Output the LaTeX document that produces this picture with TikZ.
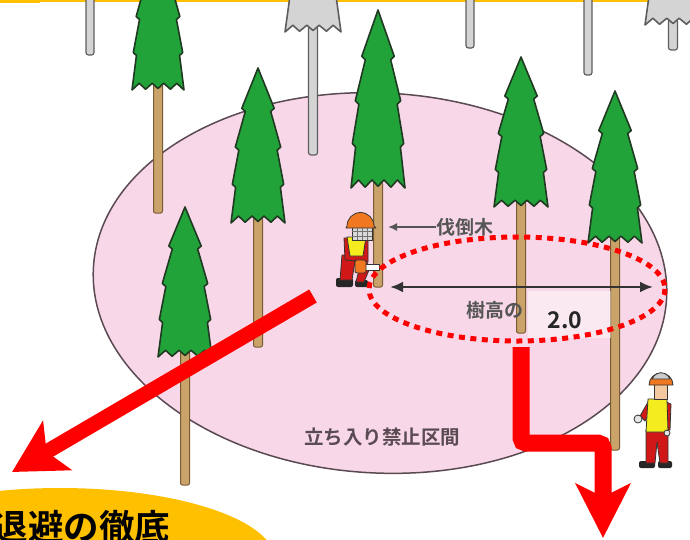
\documentclass[tikz,border=0pt]{standalone}
\usepackage{fontspec}
\newfontfamily\jp{Noto Sans CJK JP}[BoldFont={Noto Sans CJK JP Bold}]
\usetikzlibrary{arrows.meta}

\definecolor{zonepink}{HTML}{F8D8E8}
\definecolor{zoneline}{HTML}{5A4A52}
\definecolor{leaf}{HTML}{22A33A}
\definecolor{leafline}{HTML}{203A22}
\definecolor{bark}{HTML}{C9A36A}
\definecolor{barkline}{HTML}{7A5A30}
\definecolor{deadfill}{HTML}{D4D4D4}
\definecolor{deadline}{HTML}{5E5E5E}
\definecolor{banner}{HTML}{FFC000}
\definecolor{labelgray}{HTML}{555555}
\definecolor{helmet}{HTML}{F07820}
\definecolor{vest}{HTML}{F4EC1E}
\definecolor{suit}{HTML}{D01818}
\definecolor{skin}{HTML}{F5C9A0}

\tikzset{
  greencrown/.style={fill=leaf,draw=leafline,line width=1.6pt,line join=round},
  greentrunk/.style={fill=bark,draw=barkline,line width=1pt,rounded corners=2pt},
  graycrown/.style={fill=deadfill,draw=deadline,line width=1.6pt,line join=round},
  graytrunk/.style={fill=deadfill,draw=deadline,line width=1.2pt,rounded corners=2.5pt},
  pole/.style={fill=deadfill,draw=deadline,line width=1.2pt,rounded corners=2.5pt},
  fig/.style={draw=black!80,line width=0.8pt,line join=round},
  redarrow/.style={draw=red,line width=#1},
  lbl/.style={inner sep=0pt,text=labelgray,font=\jp\bfseries\fontsize{19}{19}\selectfont},
}

% fir tree: #1 x, #2 tip y, #3 half width, #4 crown height, #5 trunk bottom, #6 colour set
\newcommand\firtree[6]{%
  \draw[#6trunk] ({#1-4.5},{#2+#4-6}) rectangle ({#1+4.5},#5);
  \draw[#6crown] (#1,#2)
    -- ({#1-0.60*#3},{#2+0.26*#4}) -- ({#1-0.47*#3},{#2+0.28*#4})
    -- ({#1-0.84*#3},{#2+0.51*#4}) -- ({#1-0.71*#3},{#2+0.53*#4})
    -- ({#1-0.95*#3},{#2+0.75*#4}) -- ({#1-0.83*#3},{#2+0.77*#4})
    -- ({#1-1.00*#3},{#2+#4})
    -- ({#1-0.72*#3},{#2+0.955*#4}) -- ({#1-0.48*#3},{#2+0.995*#4})
    -- ({#1-0.22*#3},{#2+0.955*#4}) -- ({#1},{#2+0.99*#4})
    -- ({#1+0.22*#3},{#2+0.955*#4}) -- ({#1+0.48*#3},{#2+0.995*#4})
    -- ({#1+0.72*#3},{#2+0.955*#4})
    -- ({#1+1.00*#3},{#2+#4})
    -- ({#1+0.83*#3},{#2+0.77*#4}) -- ({#1+0.95*#3},{#2+0.75*#4})
    -- ({#1+0.71*#3},{#2+0.53*#4}) -- ({#1+0.84*#3},{#2+0.51*#4})
    -- ({#1+0.47*#3},{#2+0.28*#4}) -- ({#1+0.60*#3},{#2+0.26*#4})
    -- cycle;
}

\begin{document}
\begin{tikzpicture}[x=1pt,y=-1pt]
\useasboundingbox (0,0) rectangle (690,539);
\clip (0,0) rectangle (690,539);
\fill[white] (0,0) rectangle (690,539);

% rule along the top edge
\fill[banner] (0,0) rectangle (40,3);
\fill[banner] (40,0) rectangle (690,1.5);

% no-entry zone
\draw[fill=zonepink,draw=zoneline,line width=1.5pt]
  [shift={(380,283)},rotate=-3] (0,0) ellipse [x radius=287, y radius=190];

% bare poles and dead trees behind
\draw[pole] (86,-5) rectangle (94,55);
\draw[pole] (466,-5) rectangle (474,48);
\draw[pole] (584,-5) rectangle (592,75);
\firtree{313}{-118}{28}{150}{155}{gray}
\firtree{673}{-125}{28}{150}{50}{gray}

% standing firs
\firtree{158}{-60}{26}{150}{213}{green}
\firtree{258}{68}{27}{155}{347}{green}
\firtree{378}{10}{27}{178}{287}{green}
\firtree{521}{57}{27}{150}{333}{green}
\firtree{615}{91}{27}{152}{450}{green}
\firtree{185}{207}{27}{150}{485}{green}

% feller crouching at the trunk
\begin{scope}
  \fill[black!85,rounded corners=2pt] (336,278) rectangle (353,287);
  \fill[black!85,rounded corners=2pt] (355,280) rectangle (368,287);
  \draw[fig,fill=suit] (342,255) -- (356,255) -- (352,280) -- (340,280) -- cycle;
  \draw[fig,fill=suit] (352,256) -- (366,258) -- (369,270) -- (364,282) -- (356,282) -- (359,270) -- cycle;
  \draw[fig,fill=suit] (344,238) -- (368,238) -- (368,262) -- (345,260) -- cycle;
  \draw[fig,fill=vest] (347,237) -- (366,237) -- (363,256) -- (350,256) -- cycle;
  \draw[fig,fill=white] (363,264) rectangle (379,270);
  \draw[fig,fill=helmet,rounded corners=2pt] (355,260) rectangle (366,273);
  \draw[fig,fill=black!15] (352,222) rectangle (372,240);
  \draw[black!55,line width=0.5pt] (357,226) -- (357,240) (362,226) -- (362,240) (367,226) -- (367,240)
     (352,231) -- (372,231) (352,236) -- (372,236);
  \draw[fig,fill=helmet] (347,226) arc[start angle=180,end angle=360,radius=13.5] -- (376,228) -- (346,228) -- cycle;
\end{scope}

% worker standing outside the zone
\begin{scope}
  \fill[black!85,rounded corners=2pt] (639,461) rectangle (655,468);
  \fill[black!85,rounded corners=2pt] (658,461) rectangle (672,468);
  \draw[fig,fill=suit] (646,430) -- (668,430) -- (668,463) -- (660,463) -- (657,442) -- (655,463) -- (646,463) -- cycle;
  \draw[fig,fill=suit] (648,402) -- (640,416) -- (645,421) -- (651,410) -- cycle;
  \draw[fig,fill=suit] (666,402) -- (671,404) -- (670,430) -- (665,430) -- cycle;
  \draw[fig,fill=vest] (648,399) -- (667,399) -- (668,432) -- (646,432) -- cycle;
  \draw[fig,fill=black!10] (638,419) circle [radius=4];
  \draw[fig,fill=black!10] (667,433) circle [radius=3];
  \draw[fig,fill=skin] (654,383) rectangle (667,399);
  \draw[fig,fill=helmet] (649,385) arc[start angle=180,end angle=360,radius=12] -- cycle;
  \draw[fig,fill=black!20] (652.1,379) arc[start angle=200,end angle=340,radius=9.5] -- cycle;
\end{scope}

% felled-tree label
\node[lbl,anchor=west] (felled) at (436,227) {伐倒木};
\draw[-{Latex[length=9pt,width=8pt]},labelgray,line width=1.6pt] (felled.west) -- (388,227);

% tree-height span
\fill[white,opacity=0.45] (528,291) rectangle (611,338);
\coordinate (spanL) at (390,287);
\coordinate (spanR) at (653,287);
\draw[{Latex[length=13pt,width=11pt]}-{Latex[length=13pt,width=11pt]},black!80,line width=2.6pt] (spanL) -- (spanR);
\node[lbl] (heightlbl) at (495,310) {樹高の};
\node[inner sep=0pt,font=\jp\bfseries\fontsize{23}{23}\selectfont,text=black!85] (factor) at (565,320) {2.0};

% zone caption
\node[lbl,text=zoneline,font=\jp\bfseries\fontsize{19.5}{19.5}\selectfont] (zonelbl) at (382,437) {立ち入り禁止区間};

% highlighted span
\draw[red,line width=5pt,dash pattern=on 6pt off 5.5pt] (517,289) ellipse [x radius=148, y radius=52];

% escape arrows
\coordinate (escA0) at (313,296);
\coordinate (escA1) at (12,472);
\draw[redarrow=15pt,-{Stealth[length=52pt,width=56pt,inset=12pt]}] (escA0) -- (escA1);
\coordinate (escB0) at (521,347);
\coordinate (escB1) at (521,443);
\coordinate (escB2) at (603,443);
\coordinate (escB3) at (603,538);
\draw[redarrow=17pt,rounded corners=5pt,-{Stealth[length=54pt,width=54pt,inset=13pt]}] (escB0) -- (escB1) -- (escB2) -- (escB3);

% banner in the corner
\fill[banner] (60,560) ellipse [x radius=215, y radius=72];
\node[anchor=base west,inner sep=0pt,font=\jp\bfseries\fontsize{35.5}{35.5}\selectfont] (banner) at (-7.5,540) {退避の徹底};
\end{tikzpicture}
\end{document}
